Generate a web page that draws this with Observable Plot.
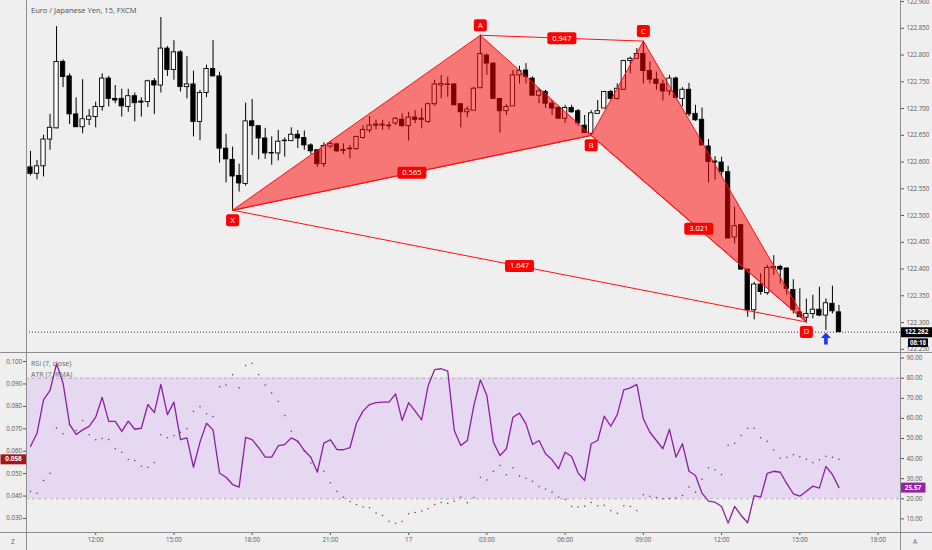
<!DOCTYPE html>
<html>
<head>
<meta charset="utf-8">
<script src="https://cdn.jsdelivr.net/npm/d3@7"></script>
<script src="https://cdn.jsdelivr.net/npm/@observablehq/plot@0.6"></script>
<style>
  body { margin: 0; background: #efefef; font-family: "Open Sans", sans-serif; overflow: hidden; }
  #chart { position: relative; width: 932px; height: 550px; overflow: hidden; }
  #chart svg { position: absolute; left: 0; background: transparent; overflow: visible; }
  .line { position: absolute; background: #8d8d8d; }
  .txt { position: absolute; white-space: nowrap; color: #555; line-height: 1; }
</style>
</head>
<body>
<div id="chart"></div>
<script>
// EUR/JPY 15m candles
const open = [122.590,122.578,122.592,122.642,122.663,122.787,122.760,122.689,122.665,122.679,
  122.684,122.703,122.756,122.718,122.718,122.703,122.723,122.713,122.712,122.751,
  122.743,122.812,122.772,122.805,122.740,122.745,122.675,122.729,122.774,122.760,
  122.625,122.604,122.574,122.559,122.676,122.667,122.644,122.617,122.616,122.639,
  122.639,122.651,122.645,122.631,122.622,122.596,122.629,122.633,122.622,122.625,
  122.624,122.645,122.659,122.668,122.668,122.667,122.672,122.679,122.667,122.683,
  122.681,122.675,122.708,122.743,122.745,122.745,122.708,122.693,122.696,122.738,
  122.799,122.784,122.718,122.695,122.704,122.762,122.771,122.756,122.724,122.731,
  122.709,122.701,122.681,122.701,122.695,122.668,122.653,122.690,122.700,122.731,
  122.718,122.735,122.789,122.793,122.802,122.770,122.754,122.745,122.732,122.756,
  122.718,122.735,122.690,122.679,122.629,122.601,122.599,122.581,122.459,122.482,
  122.399,122.323,122.371,122.355,122.401,122.404,122.401,122.361,122.319,122.309,
  122.316,122.324,122.313,122.335,122.319];
const high = [122.620,122.603,122.650,122.689,122.853,122.791,122.765,122.720,122.754,122.698,
  122.712,122.765,122.760,122.743,122.736,122.736,122.729,122.720,122.753,122.756,
  122.870,122.816,122.827,122.808,122.797,122.770,122.734,122.781,122.827,122.768,
  122.652,122.628,122.596,122.710,122.717,122.667,122.663,122.647,122.659,122.645,
  122.664,122.659,122.658,122.634,122.622,122.636,122.638,122.634,122.634,122.631,
  122.648,122.668,122.685,122.678,122.678,122.675,122.683,122.690,122.693,122.696,
  122.700,122.710,122.753,122.762,122.759,122.746,122.709,122.703,122.740,122.837,
  122.802,122.785,122.718,122.707,122.771,122.779,122.784,122.759,122.737,122.734,
  122.715,122.703,122.706,122.706,122.698,122.687,122.696,122.715,122.732,122.734,
  122.746,122.790,122.796,122.812,122.826,122.787,122.768,122.753,122.762,122.759,
  122.739,122.747,122.706,122.701,122.642,122.610,122.609,122.592,122.516,122.482,
  122.399,122.375,122.391,122.407,122.425,122.407,122.402,122.380,122.363,122.344,
  122.351,122.366,122.344,122.368,122.332];
const low = [122.574,122.567,122.572,122.622,122.662,122.739,122.670,122.665,122.653,122.668,
  122.664,122.695,122.703,122.709,122.684,122.693,122.675,122.684,122.702,122.689,
  122.729,122.760,122.753,122.731,122.718,122.647,122.640,122.720,122.760,122.598,
  122.561,122.510,122.544,122.555,122.612,122.604,122.605,122.594,122.602,122.609,
  122.639,122.625,122.622,122.614,122.590,122.590,122.625,122.618,122.614,122.606,
  122.622,122.643,122.654,122.660,122.659,122.660,122.668,122.665,122.639,122.672,
  122.662,122.672,122.704,122.718,122.721,122.706,122.664,122.683,122.696,122.737,
  122.762,122.718,122.654,122.687,122.704,122.746,122.746,122.724,122.709,122.700,
  122.687,122.681,122.672,122.691,122.667,122.653,122.650,122.690,122.700,122.716,
  122.716,122.734,122.765,122.793,122.746,122.746,122.734,122.714,122.724,122.718,
  122.703,122.684,122.676,122.631,122.561,122.566,122.572,122.457,122.447,122.398,
  122.310,122.305,122.351,122.351,122.388,122.372,122.351,122.316,122.310,122.301,
  122.307,122.311,122.285,122.316,122.282];
const close = [122.578,122.592,122.642,122.664,122.787,122.759,122.689,122.665,122.680,122.685,
  122.703,122.756,122.718,122.715,122.704,122.723,122.710,122.711,122.751,122.743,
  122.812,122.772,122.805,122.740,122.745,122.675,122.729,122.774,122.760,122.625,
  122.605,122.573,122.560,122.676,122.667,122.644,122.616,122.616,122.638,122.640,
  122.651,122.644,122.631,122.620,122.596,122.630,122.634,122.620,122.621,122.624,
  122.647,122.660,122.668,122.670,122.670,122.668,122.681,122.667,122.683,122.679,
  122.679,122.708,122.745,122.746,122.744,122.706,122.693,122.698,122.737,122.802,
  122.784,122.718,122.695,122.703,122.762,122.770,122.759,122.724,122.732,122.709,
  122.700,122.681,122.701,122.693,122.672,122.654,122.691,122.695,122.731,122.718,
  122.737,122.789,122.793,122.802,122.770,122.754,122.746,122.732,122.756,122.720,
  122.735,122.689,122.678,122.631,122.600,122.599,122.581,122.457,122.480,122.399,
  122.323,122.371,122.357,122.402,122.404,122.399,122.363,122.323,122.310,122.316,
  122.324,122.313,122.336,122.321,122.282];

// RSI (7, close) and ATR (7, RMA), one value per candle
const rsi = [46.0,52.6,69.2,73.9,87.2,77.5,57.0,52.0,54.3,56.0,
  60.6,70.5,58.5,58.5,53.5,58.6,54.6,55.1,66.9,62.9,
  76.9,61.9,68.1,49.4,50.3,35.7,48.2,57.6,54.3,32.7,
  30.7,27.1,25.8,50.6,49.4,45.4,40.7,40.7,46.4,47.0,
  50.3,48.7,44.0,40.7,33.2,47.7,49.4,44.5,44.4,45.4,
  57.6,63.6,66.9,67.8,68.1,68.1,72.2,59.0,67.8,63.6,
  59.3,76.4,84.3,84.7,83.5,54.0,46.5,49.0,66.4,79.2,
  71.4,48.2,41.5,44.9,60.6,62.6,57.3,47.0,49.0,42.4,
  39.4,34.9,43.2,41.0,32.8,29.1,47.4,49.0,61.1,56.1,
  61.9,74.2,75.2,76.9,59.8,53.1,49.0,44.9,54.5,40.7,
  47.4,33.7,31.6,22.8,18.8,18.3,16.2,7.9,16.2,11.7,
  8.1,21.6,20.8,32.7,33.7,33.2,27.5,22.5,21.3,23.8,
  26.3,25.3,36.1,32.1,25.57];
const atr = [0.0420,0.0413,0.0469,0.0502,0.0704,0.0678,0.0717,0.0693,0.0737,0.0674,
  0.0651,0.0657,0.0652,0.0611,0.0596,0.0563,0.0559,0.0533,0.0529,0.0550,
  0.0674,0.0660,0.0670,0.0685,0.0700,0.0778,0.0799,0.0767,0.0755,0.0888,
  0.0896,0.0941,0.0883,0.0982,0.0992,0.0942,0.0896,0.0860,0.0823,0.0759,
  0.0689,0.0640,0.0600,0.0548,0.0516,0.0511,0.0459,0.0422,0.0395,0.0376,
  0.0362,0.0351,0.0348,0.0325,0.0313,0.0288,0.0279,0.0287,0.0321,0.0327,
  0.0333,0.0343,0.0362,0.0371,0.0368,0.0377,0.0395,0.0370,0.0394,0.0484,
  0.0472,0.0511,0.0536,0.0495,0.0526,0.0490,0.0480,0.0466,0.0443,0.0432,
  0.0417,0.0395,0.0385,0.0354,0.0351,0.0355,0.0371,0.0357,0.0359,0.0336,
  0.0324,0.0357,0.0354,0.0336,0.0406,0.0399,0.0394,0.0388,0.0389,0.0391,
  0.0403,0.0440,0.0417,0.0475,0.0526,0.0517,0.0496,0.0627,0.0636,0.0670,
  0.0703,0.0703,0.0660,0.0645,0.0606,0.0569,0.0573,0.0584,0.0576,0.0564,
  0.0550,0.0562,0.0578,0.0573,0.0564];

// XABCD pattern
const patternNames = ["X", "A", "B", "C", "D"];
const patternIdx = [31, 69, 86, 94, 119];
const patternPrice = [122.510, 122.837, 122.650, 122.826, 122.301];
const legFrom = ["X", "A", "B", "X"];
const legTo = ["B", "C", "D", "D"];
const legRatio = ["0.565", "0.947", "3.021", "1.647"];
const signalIdx = [122];

// axes
const timeTicks = [10, 22, 34, 46, 58, 70, 82, 94, 106, 118, 130];
const timeLabels = ["12:00", "15:00", "18:00", "21:00", "17", "03:00", "06:00", "09:00", "12:00", "15:00", "18:00"];
const priceTicks = [122.25, 122.30, 122.35, 122.40, 122.45, 122.50, 122.55, 122.60, 122.65, 122.70, 122.75, 122.80, 122.85, 122.90];
const rsiTicks = [10, 20, 30, 40, 50, 60, 70, 80, 90];
const atrTicks = [0.03, 0.04, 0.05, 0.06, 0.07, 0.08, 0.09, 0.10];
const rsiBand = [20, 80];
const countdown = "08:18";

const candles = open.map((o, i) => ({ i, open: o, high: high[i], low: low[i], close: close[i] }));
const pts = patternNames.map((n, k) => ({ name: n, i: patternIdx[k], p: patternPrice[k] }));
const pt = (n) => pts.find((d) => d.name === n);
const legs = legFrom.map((f, k) => ({ a: pt(f), b: pt(legTo[k]), label: legRatio[k] }));
const lastClose = close[close.length - 1];
const lastRsi = rsi[rsi.length - 1];
const lastAtr = atr[atr.length - 1];

const RED = "#ff1010";
const xDomain = [-0.61, 133.44];

function box(w, h, r = 2) {
  return {
    draw(ctx) {
      const x0 = -w / 2, y0 = -h / 2, x1 = w / 2, y1 = h / 2;
      ctx.moveTo(x0 + r, y0);
      ctx.arcTo(x1, y0, x1, y1, r);
      ctx.arcTo(x1, y1, x0, y1, r);
      ctx.arcTo(x0, y1, x0, y0, r);
      ctx.arcTo(x0, y0, x1, y0, r);
      ctx.closePath();
    },
  };
}
const arrowUp = {
  draw(ctx) {
    ctx.moveTo(0, -6);
    ctx.lineTo(5, -0.5);
    ctx.lineTo(1.8, -0.5);
    ctx.lineTo(1.8, 6);
    ctx.lineTo(-1.8, 6);
    ctx.lineTo(-1.8, -0.5);
    ctx.lineTo(-5, -0.5);
    ctx.closePath();
  },
};

const axisStyle = { background: "transparent", fontFamily: "Open Sans", fontSize: "6.2px", color: "#555" };
const above = (d) => d.name === "A" || d.name === "C";
const tag = { textAnchor: "middle", fill: "#fff", fontSize: 6.4, fontWeight: "bold" };

const pricePlot = Plot.plot({
  width: 932,
  height: 352,
  marginLeft: 26,
  marginRight: 32,
  marginTop: 0,
  marginBottom: 0,
  style: axisStyle,
  x: { domain: xDomain, axis: null },
  y: {
    domain: [122.244, 122.9019],
    axis: "right",
    ticks: priceTicks,
    tickFormat: ".3f",
    tickSize: 3,
    tickPadding: 3,
    label: null,
  },
  marks: [
    Plot.ruleY([lastClose], { stroke: "#333", strokeDasharray: "1,2", strokeWidth: 1 }),
    Plot.ruleX(candles, { x: "i", y1: "low", y2: "high", stroke: "#000", strokeWidth: 1 }),
    Plot.rect(candles, {
      x1: (d) => d.i - 0.33,
      x2: (d) => d.i + 0.33,
      y1: "open",
      y2: "close",
      fill: (d) => (d.close >= d.open ? "#ffffff" : "#000000"),
      stroke: "#000",
      strokeWidth: 0.9,
    }),
    Plot.line(["X", "A", "B"].map(pt), { x: "i", y: "p", curve: "linear-closed", fill: "#ff0000", fillOpacity: 0.5, stroke: RED, strokeWidth: 1 }),
    Plot.line(["B", "C", "D"].map(pt), { x: "i", y: "p", curve: "linear-closed", fill: "#ff0000", fillOpacity: 0.5, stroke: RED, strokeWidth: 1 }),
    Plot.link(legs, { x1: (d) => d.a.i, y1: (d) => d.a.p, x2: (d) => d.b.i, y2: (d) => d.b.p, stroke: RED, strokeWidth: 1 }),
    Plot.dot(legs, { x: (d) => (d.a.i + d.b.i) / 2, y: (d) => (d.a.p + d.b.p) / 2, symbol: box(29, 12), fill: "#ff0000" }),
    Plot.text(legs, { x: (d) => (d.a.i + d.b.i) / 2, y: (d) => (d.a.p + d.b.p) / 2, text: "label", fill: "#fff", fontSize: 7.5 }),
    Plot.dot(pts, { filter: above, x: "i", y: "p", dy: -10, symbol: box(13, 12), fill: "#ff0000" }),
    Plot.text(pts, { filter: above, x: "i", y: "p", dy: -10, text: "name", fill: "#fff", fontSize: 7.5 }),
    Plot.dot(pts, { filter: (d) => !above(d), x: "i", y: "p", dy: 10, symbol: box(13, 12), fill: "#ff0000" }),
    Plot.text(pts, { filter: (d) => !above(d), x: "i", y: "p", dy: 10, text: "name", fill: "#fff", fontSize: 7.5 }),
    Plot.dot(signalIdx, { x: (d) => d, y: (d) => low[d], dy: 8, symbol: arrowUp, fill: "#1f33ff" }),
    Plot.dot([lastClose], { y: (d) => d, frameAnchor: "right", dx: 16, symbol: box(32, 10, 0), fill: "#000" }),
    Plot.text([lastClose], { ...tag, y: (d) => d, frameAnchor: "right", dx: 16, text: (d) => d.toFixed(3) }),
    Plot.dot([lastClose], { y: (d) => d, frameAnchor: "right", dx: 17.5, dy: 10.5, symbol: box(20, 8.5, 0), fill: "#000" }),
    Plot.text([lastClose], { ...tag, y: (d) => d, frameAnchor: "right", dx: 17.5, dy: 10.5, text: () => countdown, fontSize: 6.2 }),
  ],
});

const rsiPlot = Plot.plot({
  width: 932,
  height: 197,
  marginLeft: 26,
  marginRight: 32,
  marginTop: 0,
  marginBottom: 18,
  style: axisStyle,
  x: {
    domain: xDomain,
    ticks: timeTicks,
    tickFormat: (d) => timeLabels[timeTicks.indexOf(d)],
    tickSize: 3,
    tickPadding: 2,
    label: null,
  },
  y: {
    domain: [3.23, 92.29],
    axis: "right",
    ticks: rsiTicks,
    tickFormat: ".2f",
    tickSize: 3,
    tickPadding: 3,
    label: null,
  },
  marks: [
    Plot.rect([rsiBand], { x1: () => xDomain[0], x2: () => xDomain[1], y1: (d) => d[0], y2: (d) => d[1], fill: "#e6d8f1" }),
    Plot.ruleY(rsiBand, { stroke: "#a59fab", strokeDasharray: "3,3", strokeWidth: 0.8 }),
    Plot.line(rsi, { x: (d, i) => i, y: (d) => d, stroke: "#8c1fa3", strokeWidth: 1.3 }),
    Plot.dot([lastRsi], { y: (d) => d, frameAnchor: "right", dx: 12.5, symbol: box(25, 10, 0), fill: "#9423a8" }),
    Plot.text([lastRsi], { ...tag, y: (d) => d, frameAnchor: "right", dx: 12.5, text: (d) => d.toFixed(2) }),
  ],
});

const atrPlot = Plot.plot({
  width: 932,
  height: 179,
  marginLeft: 26,
  marginRight: 32,
  marginTop: 0,
  marginBottom: 0,
  style: axisStyle,
  x: { domain: xDomain, axis: null },
  y: {
    domain: [0.02376, 0.1036],
    axis: "left",
    ticks: atrTicks,
    tickFormat: ".3f",
    tickSize: 3,
    tickPadding: 1.5,
    label: null,
  },
  marks: [
    Plot.dot(atr, { x: (d, i) => i, y: (d) => d, r: 0.75, fill: "#7d2a5e" }),
    Plot.dot([lastAtr], { y: (d) => d, frameAnchor: "left", dx: -13, symbol: box(26, 10, 0), fill: "#a8161b" }),
    Plot.text([lastAtr], { ...tag, y: (d) => d, frameAnchor: "left", dx: -13, text: (d) => d.toFixed(3) }),
  ],
});

const chart = document.getElementById("chart");
pricePlot.style.top = "0px";
rsiPlot.style.top = "353px";
atrPlot.style.top = "353px";
chart.appendChild(pricePlot);
chart.appendChild(rsiPlot);
chart.appendChild(atrPlot);

function addLine(css) {
  const el = document.createElement("div");
  el.className = "line";
  Object.assign(el.style, css);
  chart.appendChild(el);
}
addLine({ left: "25.5px", top: "0px", width: "1px", height: "550px" });
addLine({ left: "900px", top: "0px", width: "1px", height: "550px" });
addLine({ left: "0px", top: "352px", width: "932px", height: "1px" });
addLine({ left: "0px", top: "532px", width: "932px", height: "1px" });

function addText(str, css) {
  const el = document.createElement("div");
  el.className = "txt";
  el.textContent = str;
  Object.assign(el.style, css);
  chart.appendChild(el);
}
addText("Euro / Japanese Yen, 15, FXCM", { left: "31px", top: "7px", fontSize: "7.5px", color: "#4d4d4d" });
addText("RSI (7, close)", { left: "31px", top: "360px", fontSize: "7px", color: "#666" });
addText("ATR (7, RMA)", { left: "31px", top: "371px", fontSize: "7px", color: "#666" });
addText("Z", { left: "11px", top: "539px", fontSize: "6.5px", color: "#666" });
addText("A", { left: "913px", top: "539px", fontSize: "6.5px", color: "#666" });
</script>
</body>
</html>
